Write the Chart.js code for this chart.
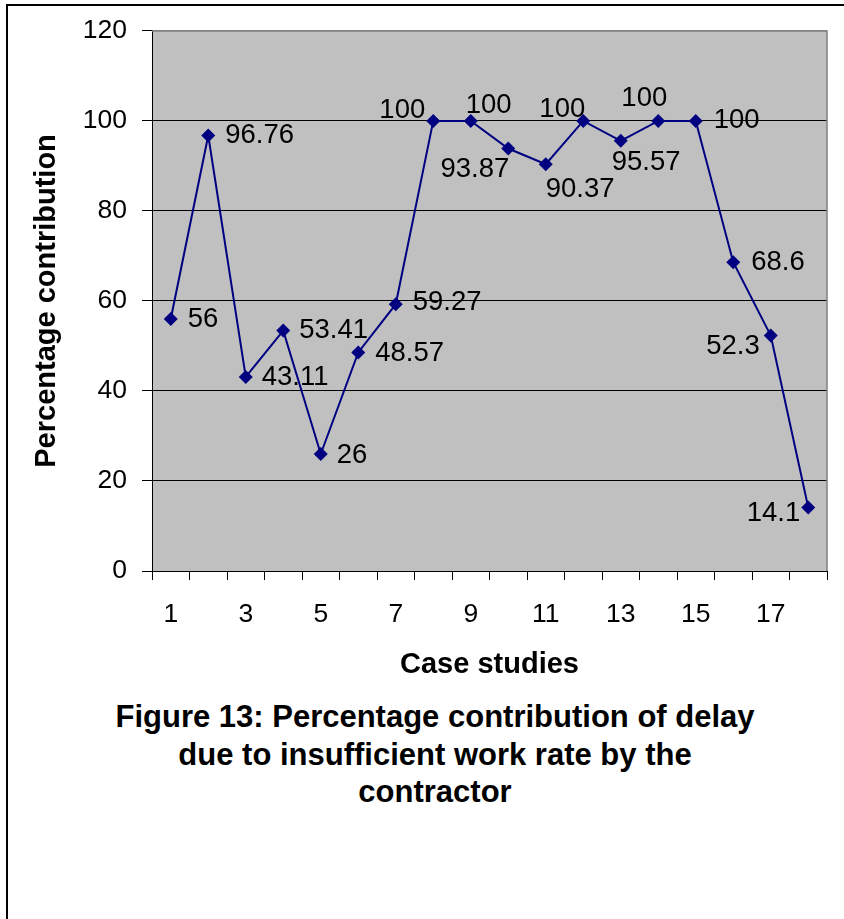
<!DOCTYPE html>
<html>
<head>
<meta charset="utf-8">
<script src="https://cdn.jsdelivr.net/npm/chart.js@4"></script>
<style>
    body { margin: 0; background: #fff; }
    #page { position: relative; width: 844px; height: 919px; overflow: hidden; }
    #frame { position: absolute; left: 6px; top: 4px; right: -4px; bottom: -4px; border-top: 2px solid #000; border-left: 2px solid #000; }
    #chart-wrap { position: absolute; left: 0; top: 0; width: 844px; height: 690px; }
    #caption {
        position: absolute; left: 35px; width: 800px; top: 698px;
        text-align: center; font: bold 31px "Liberation Sans", Arial, sans-serif;
        line-height: 37.5px; color: #000; white-space: nowrap;
    }
</style>
</head>
<body>
<div id="page">
    <div id="frame"></div>
    <div id="chart-wrap"><canvas id="delayChart" width="844" height="690"></canvas></div>
    <div id="caption">Figure 13: Percentage contribution of delay<br>due to insufficient work rate by the<br>contractor</div>
</div>
<script>
const caseStudies = ['1', '2', '3', '4', '5', '6', '7', '8', '9', '10', '11', '12', '13', '14', '15', '16', '17', '18'];
const contribution = [56, 96.76, 43.11, 53.41, 26, 48.57, 59.27, 100, 100, 93.87, 90.37, 100, 95.57, 100, 100, 68.6, 52.3, 14.1];
const yTicks = [0, 20, 40, 60, 80, 100, 120];

// where each value label sits relative to its marker: [textAlign, dx, dy]
const labelPlacement = [
    ['left', 17, 0], ['left', 17, 0], ['left', 16, 0], ['left', 16, 0], ['left', 16, 1],
    ['left', 17, 1], ['left', 17, -2], ['right', -8, -10], ['left', -5, -15], ['right', 1, 21],
    ['left', 0, 25], ['right', 2, -11], ['left', -9, 22], ['right', 9, -22], ['left', 18, 0],
    ['left', 18, 0], ['right', -11, 11], ['right', -8, 6]
];

const FONT = '"Liberation Sans", Arial, sans-serif';

// grey plot area with a darker frame on top and right
const plotBackground = {
    id: 'plotBackground',
    beforeDraw(chart) {
        const { ctx, chartArea: a } = chart;
        ctx.save();
        ctx.fillStyle = '#c0c0c0';
        ctx.fillRect(a.left, a.top, a.right - a.left, a.bottom - a.top);
        ctx.restore();
    },
    beforeDatasetsDraw(chart) {
        const { ctx, chartArea: a } = chart;
        ctx.save();
        ctx.strokeStyle = '#808080';
        ctx.lineWidth = 1.5;
        ctx.beginPath();
        ctx.moveTo(a.left, a.top);
        ctx.lineTo(a.right, a.top);
        ctx.lineTo(a.right, a.bottom);
        ctx.stroke();
        ctx.restore();
    }
};

const valueLabels = {
    id: 'valueLabels',
    afterDatasetsDraw(chart) {
        const { ctx } = chart;
        const meta = chart.getDatasetMeta(0);
        const values = chart.data.datasets[0].data;
        ctx.save();
        ctx.font = '27.5px ' + FONT;
        ctx.fillStyle = '#000';
        ctx.textBaseline = 'middle';
        meta.data.forEach((pt, i) => {
            const [align, dx, dy] = labelPlacement[i];
            ctx.textAlign = align;
            ctx.fillText(String(values[i]), pt.x + dx, pt.y + dy);
        });
        ctx.restore();
    }
};

new Chart(document.getElementById('delayChart'), {
    type: 'line',
    data: {
        labels: caseStudies,
        datasets: [{
            data: contribution,
            borderColor: '#000080',
            borderWidth: 2,
            backgroundColor: '#000080',
            pointStyle: 'rectRot',
            pointRadius: 7,
            pointBorderWidth: 0,
            pointBackgroundColor: '#000080',
            tension: 0,
            fill: false
        }]
    },
    options: {
        responsive: false,
        animation: false,
        devicePixelRatio: 1,
        layout: { padding: { left: 12, top: 28, right: 17, bottom: 0 } },
        plugins: { legend: { display: false }, tooltip: { enabled: false } },
        scales: {
            x: {
                type: 'category',
                offset: true,
                afterFit(scale) { scale.height = 119; },
                grid: { display: true, offset: true, drawOnChartArea: false, tickLength: 9, tickColor: '#000', tickWidth: 1 },
                border: { color: '#000', width: 1 },
                ticks: {
                    autoSkip: false, maxRotation: 0, padding: 19,
                    color: '#000', font: { family: FONT, size: 26.5 },
                    callback(v, i) { return i % 2 === 0 ? caseStudies[i] : ''; }
                },
                title: {
                    display: true, text: 'Case studies', color: '#000',
                    font: { family: FONT, size: 29, weight: 'bold' },
                    padding: { top: 0, bottom: 8 }
                }
            },
            y: {
                min: yTicks[0],
                max: yTicks[yTicks.length - 1],
                afterFit(scale) { scale.width = 140; },
                afterBuildTicks(scale) { scale.ticks = yTicks.map(v => ({ value: v })); },
                grid: {
                    color: ctx => ctx.tick && ctx.tick.value === 120 ? '#808080' : '#000',
                    lineWidth: 1, tickLength: 10, tickColor: '#000'
                },
                border: { color: '#000', width: 1 },
                ticks: { padding: 15, color: '#000', font: { family: FONT, size: 26.5 } },
                title: {
                    display: true, text: 'Percentage contribution', color: '#000',
                    font: { family: FONT, size: 29, weight: 'bold' },
                    padding: { top: 18, bottom: 0 }
                }
            }
        }
    },
    plugins: [plotBackground, valueLabels]
});
</script>
</body>
</html>
